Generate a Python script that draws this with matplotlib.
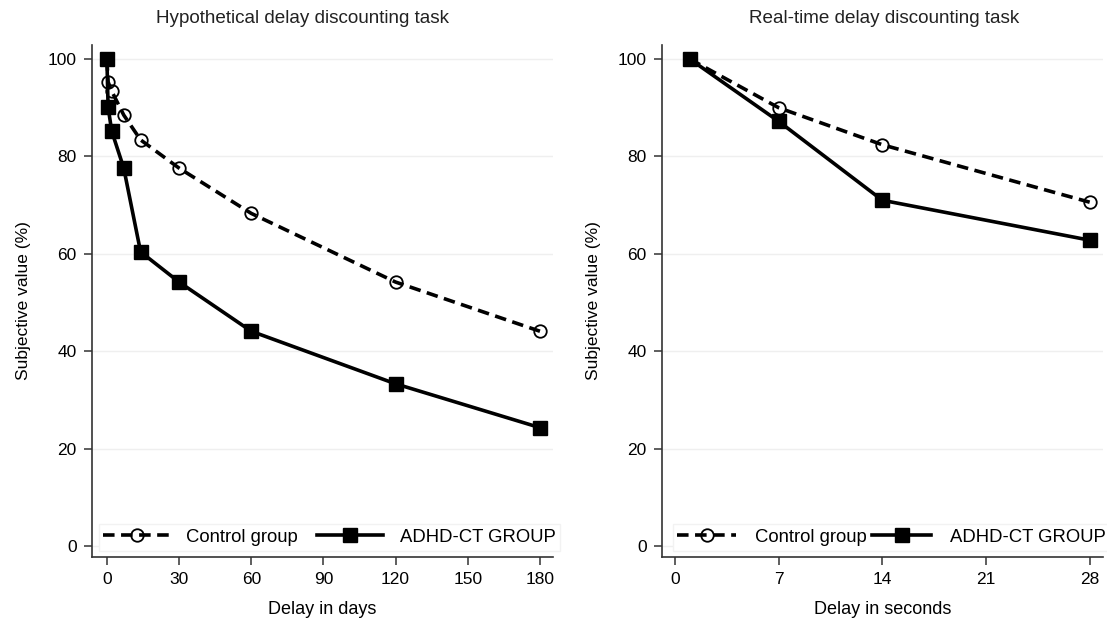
import matplotlib
matplotlib.use("Agg")
import matplotlib.pyplot as plt
from matplotlib.lines import Line2D

plt.rcParams['font.family'] = ['Liberation Sans', 'DejaVu Sans']

# Data
hyp_delays = [0, 0.5, 2, 7, 14, 30, 60, 120, 180]
hyp_control = [100, 95.3, 93.4, 88.5, 83.4, 77.6, 68.3, 54.2, 44.1]
hyp_adhd = [100, 90.1, 85.2, 77.6, 60.4, 54.2, 44.1, 33.3, 24.3]

rt_delays = [1, 7, 14, 28]
rt_control = [100, 90.0, 82.4, 70.6]
rt_adhd = [100, 87.2, 71.0, 62.8]

hyp_xticks = [0, 30, 60, 90, 120, 150, 180]
rt_xticks = [0, 7, 14, 21, 28]
yticks = [0, 20, 40, 60, 80, 100]

titles = ["Hypothetical delay discounting task", "Real-time delay discounting task"]
xlabels = ["Delay in days", "Delay in seconds"]
ylabel = "Subjective value (%)"
series_names = ["Control group", "ADHD-CT GROUP"]

fig = plt.figure(figsize=(11.07, 6.24), dpi=100)
ax1 = fig.add_axes([0.0831, 0.1074, 0.4164, 0.8206])
ax2 = fig.add_axes([0.598, 0.1074, 0.3984, 0.8206])

ctrl_style = dict(color='black', lw=2.6, ls=(0, (3.2, 1.8)), marker='o', ms=9,
                  mfc='none', mec='black', mew=1.3)
adhd_style = dict(color='black', lw=2.6, ls='-', marker='s', ms=10.5,
                  mfc='black', mec='black')

panels = [
    (ax1, hyp_delays, hyp_control, hyp_adhd, hyp_xticks, (-6.2, 185.4), 0,
     dict(handlelength=3.6, handletextpad=0.9, columnspacing=1.0), 0.515, 0.456),
    (ax2, rt_delays, rt_control, rt_adhd, rt_xticks, (-0.88, 28.9), 1,
     dict(handlelength=3.2, handletextpad=1.0, columnspacing=0.3), 0.52, 0.503),
]

for ax, xd, yc, ya, xt, xlim, i, legkw, legx, tx in panels:
    for s in ['top', 'right']:
        ax.spines[s].set_visible(False)
    for s in ['left', 'bottom']:
        ax.spines[s].set_linewidth(1.2)
        ax.spines[s].set_color('#333333')
    ax.set_xlim(*xlim)
    ax.set_ylim(-2.26, 102.9)
    ax.set_xticks(xt)
    ax.set_yticks(yticks)
    ax.tick_params(labelsize=12.5, length=6, width=1.1, color='#333333', pad=5)
    ax.grid(axis='y', color='#efefef', lw=1.0)
    ax.set_axisbelow(True)
    ax.plot(xd, yc, **ctrl_style, zorder=3)
    ax.plot(xd, ya, **adhd_style, zorder=4)
    ax.set_title(titles[i], fontsize=13.6, pad=16, color='#222222', x=tx)
    ax.set_xlabel(xlabels[i], fontsize=13, labelpad=10)
    ax.set_ylabel(ylabel, fontsize=12.5, labelpad=12)
    handles = [Line2D([], [], **ctrl_style), Line2D([], [], **adhd_style)]
    ax.legend(handles, series_names, loc='lower center', bbox_to_anchor=(legx, 0.0),
              ncol=2, fontsize=13.3,
              frameon=True, framealpha=1, edgecolor='#f2f2f2', fancybox=False,
              borderpad=0.25, borderaxespad=0.35, numpoints=1, **legkw)

fig.savefig("out.png", dpi=100)
